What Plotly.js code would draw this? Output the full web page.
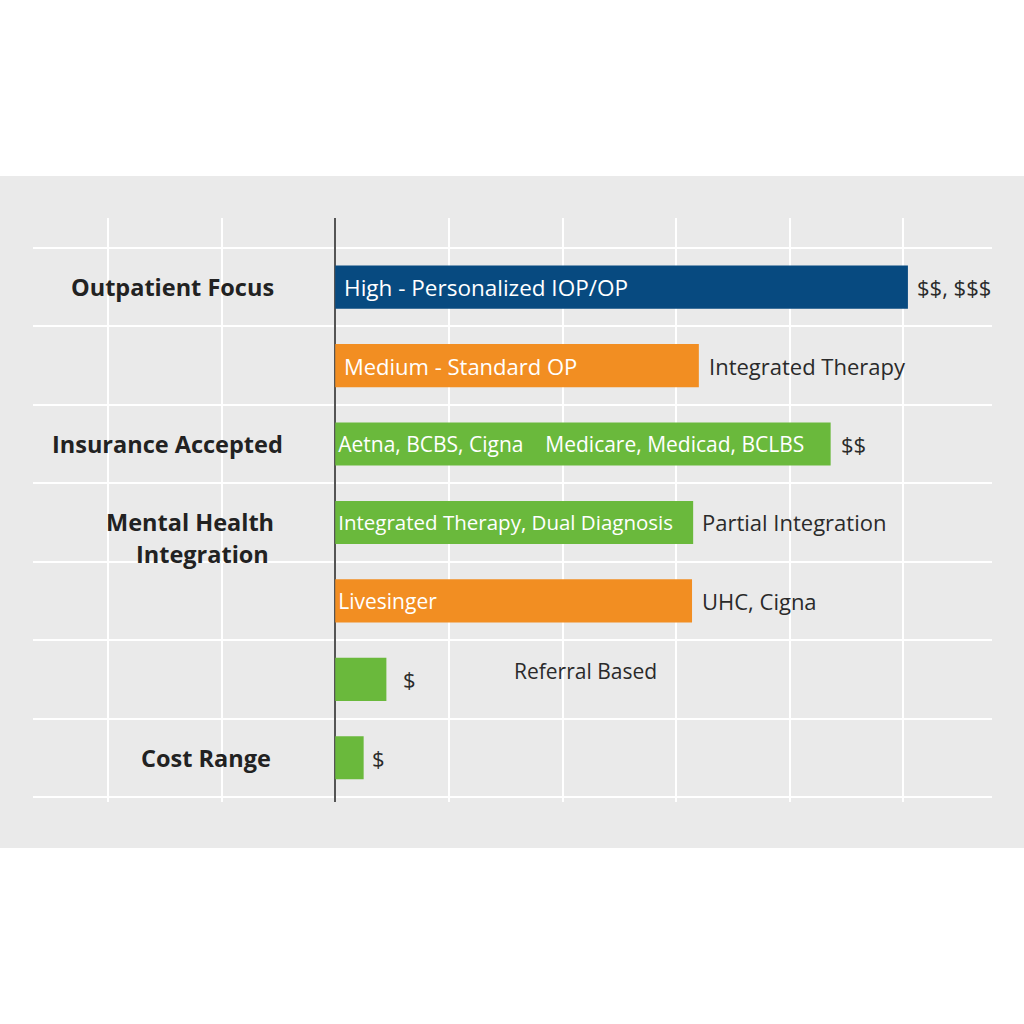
<!DOCTYPE html>
<html>
<head>
<meta charset="utf-8">
<script src="https://cdn.plot.ly/plotly-3.0.1.min.js"></script>
<style>
  html, body { margin: 0; padding: 0; background: #ffffff; width: 1024px; height: 1024px; overflow: hidden; }
  #chart { position: absolute; left: 0; top: 176px; width: 1024px; height: 672px; }
</style>
</head>
<body>
<div id="chart"></div>
<script>
// Row positions (top to bottom)
const rows = [0, 1, 2, 3, 4, 5, 6];
const barValues = [5.04, 3.2, 4.36, 3.15, 3.14, 0.45, 0.25];
const barColors = ['#074a80', '#f28e22', '#6ab93c', '#6ab93c', '#f28e22', '#6ab93c', '#6ab93c'];
const insideLabels = [
  '\u00a0High - Personalized IOP/OP',
  '\u00a0Medium - Standard OP',
  'Aetna, BCBS, Cigna\u00a0\u00a0\u00a0\u00a0Medicare, Medicad, BCLBS',
  'Integrated Therapy, Dual Diagnosis',
  'Livesinger',
  '',
  ''
];
const outsideLabels = ['$$, $$$', 'Integrated Therapy', '$$', 'Partial Integration', 'UHC, Cigna', '$', '$'];
const categoryLabels = ['Outpatient Focus', 'Insurance Accepted', 'Mental Health', 'Integration', 'Cost Range'];
const categoryRows = [0, 2, 3, 3, 6];
const categoryX = [-1.43, -1.48, -1.28, -1.165, -1.14];
const noteText = 'Referral Based';
const noteRow = 5;
const noteX = 1.555;

// styling
const insideSizes = [22.5, 22, 21, 20.5, 21, 20, 20];
const outsideShift = [7, 8, 8, 7, 8, 15, 6];
const categoryYShift = [0, 0, 0, -32, 0];

const trace = {
  type: 'bar',
  orientation: 'h',
  x: barValues,
  y: rows,
  width: 0.55,
  marker: { color: barColors, line: { width: 0 } },
  text: insideLabels,
  textposition: 'inside',
  insidetextanchor: 'start',
  constraintext: 'none',
  textfont: { family: 'Open Sans, sans-serif', size: insideSizes, color: '#ffffff' },
  hoverinfo: 'none'
};

const annotations = [];
rows.forEach((r, i) => {
  annotations.push({
    x: barValues[i], y: r, xref: 'x', yref: 'y',
    text: outsideLabels[i], showarrow: false,
    xanchor: 'left', xshift: outsideShift[i],
    font: { family: 'Open Sans, sans-serif', size: 22, color: '#2a2a2a' }
  });
});
categoryLabels.forEach((t, i) => {
  annotations.push({
    x: categoryX[i], y: categoryRows[i], xref: 'x', yref: 'y',
    text: '<b>' + t + '</b>', showarrow: false,
    xanchor: 'center', align: 'center',
    yshift: categoryYShift[i],
    font: { family: 'Open Sans, sans-serif', size: 23.5, color: '#222222' }
  });
});
annotations.push({
  x: noteX, y: noteRow, xref: 'x', yref: 'y',
  text: noteText, showarrow: false, xanchor: 'left', yshift: 8,
  font: { family: 'Open Sans, sans-serif', size: 21, color: '#2a2a2a' }
});

const layout = {
  width: 1024, height: 672,
  margin: { l: 33, r: 32, t: 42, b: 46 },
  paper_bgcolor: '#eaeaea',
  plot_bgcolor: '#eaeaea',
  showlegend: false,
  xaxis: {
    range: [-2.66, 5.78],
    tick0: 0, dtick: 1,
    showgrid: true, gridcolor: '#ffffff', gridwidth: 2,
    zeroline: true, zerolinecolor: '#555555', zerolinewidth: 2,
    showticklabels: false, ticks: '', showline: false, fixedrange: true
  },
  yaxis: {
    range: [6.564, -0.882],
    tick0: -0.5, dtick: 1, tickmode: 'linear',
    showgrid: true, gridcolor: '#ffffff', gridwidth: 2,
    zeroline: false, showticklabels: false, ticks: '', showline: false, fixedrange: true
  },
  annotations: annotations
};

Plotly.newPlot('chart', [trace], layout, { displayModeBar: false, staticPlot: true });
</script>
</body>
</html>
